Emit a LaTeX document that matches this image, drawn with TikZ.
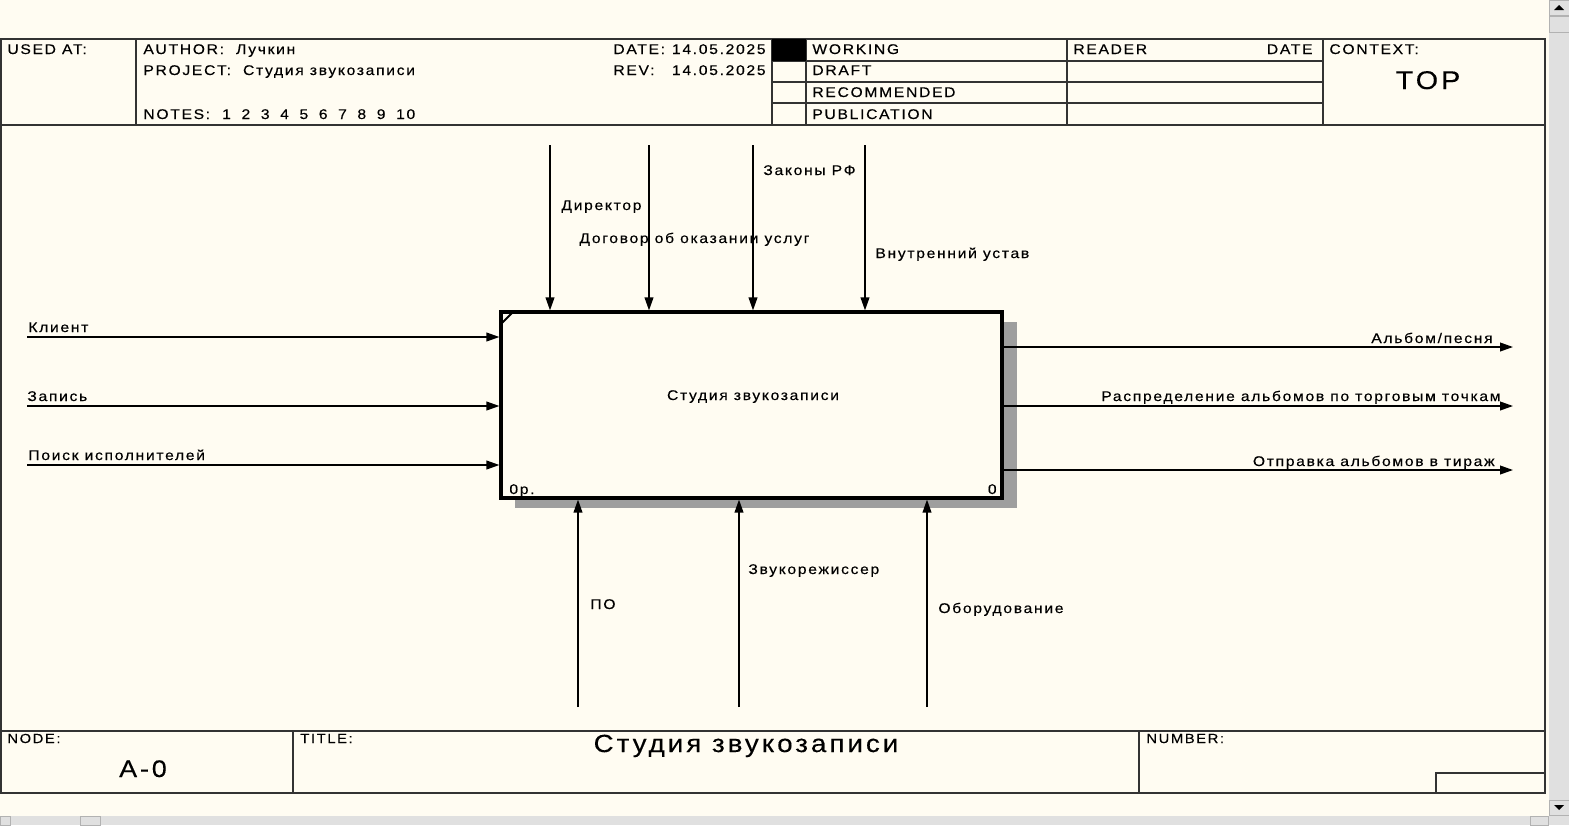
\documentclass[tikz,border=0pt]{standalone}
\usepackage{fontspec}
\setmainfont{Liberation Sans}[FakeStretch=1.12,LetterSpace=12,FakeBold=0.25]
\usetikzlibrary{arrows.meta}
\definecolor{paper}{RGB}{255,252,242}
\definecolor{bar}{RGB}{224,224,224}
\newcommand{\ngap}{\hspace{5.3pt}}

\begin{document}
\begin{tikzpicture}[x=0.5pt, y=-0.5pt,
    >={Triangle[length=6.5pt,width=4.4pt]},
    lbl/.style={inner sep=0pt, font=\fontsize{7pt}{8pt}\selectfont},
    tiny/.style={inner sep=0pt, font=\fontsize{6.6pt}{7pt}\selectfont},
    big/.style={inner sep=0pt, font=\fontsize{12.4pt}{13pt}\selectfont},
    rule/.style={draw=black!80, line width=0.7pt},
    flow/.style={->, line width=0.7pt},
    funcbox/.style={draw, line width=1.6pt, fill=paper, inner sep=0pt,
                    minimum width=250.5pt, minimum height=93pt},
    shade/.style={fill=black!38},
    barbox/.style={fill=bar, draw=black!30, line width=0.3pt},
]
\useasboundingbox (0,0) rectangle (1569,825);
\fill[paper] (0,0) rectangle (1569,825);

% --- scroll bars ---
\fill[bar] (1549,0) rectangle (1569,825);
\fill[bar] (0,816) rectangle (1549,825);
\draw[barbox] (1549,0) rectangle (1569,15);
\fill (1554,10) -- (1564,10) -- (1559,5) -- cycle;
\draw[barbox] (1549,16) rectangle (1569,32);
\draw[barbox] (1549,800) rectangle (1569,815);
\fill (1554,805) -- (1564,805) -- (1559,810) -- cycle;
\draw[barbox] (0,816) rectangle (10,825);
\draw[barbox] (80,816) rectangle (100,825);
\draw[barbox] (1530,816) rectangle (1548,825);

% --- frame and title blocks ---
\draw[rule] (1,39) rectangle (1545,793);
\draw[rule] (1,125) -- (1545,125);
\draw[rule] (1,731) -- (1545,731);
\foreach \xx in {136,772,806,1067,1323}
  \draw[rule] (\xx,39) -- (\xx,125);
\foreach \yy in {61,82,103}
  \draw[rule] (772,\yy) -- (1323,\yy);
\fill (772,39) rectangle (806,61);
\draw[rule] (293,731) -- (293,793);
\draw[rule] (1139,731) -- (1139,793);
\draw[rule] (1436,793) |- (1545,773);

% --- header text ---
\node[lbl, anchor=base west] (usedat) at (7,54) {USED AT:};
\node[lbl, anchor=base west] (author) at (143,54) {AUTHOR:\ \ Лучкин};
\node[lbl, anchor=base west] (project) at (143,75) {PROJECT:\ \ Студия звукозаписи};
\node[lbl, anchor=base west] (notes) at (143,119)
  {NOTES:\ \ 1\ngap 2\ngap 3\ngap 4\ngap 5\ngap 6\ngap 7\ngap 8\ngap 9\ngap 10};
\node[lbl, anchor=base west] (date) at (613,54) {DATE:};
\node[lbl, anchor=base east] (dateval) at (766,54) {14.05.2025};
\node[lbl, anchor=base west] (rev) at (613,75) {REV:};
\node[lbl, anchor=base east] (revval) at (766,75) {14.05.2025};
\node[lbl, anchor=base west] (working) at (812,54) {WORKING};
\node[lbl, anchor=base west] (draft) at (812,75) {DRAFT};
\node[lbl, anchor=base west] (recom) at (812,97) {RECOMMENDED};
\node[lbl, anchor=base west] (publ) at (812,119) {PUBLICATION};
\node[lbl, anchor=base west] (reader) at (1073,54) {READER};
\node[lbl, anchor=base east] (rdate) at (1313,54) {DATE};
\node[lbl, anchor=base west] (context) at (1329,54) {CONTEXT:};
\node[inner sep=0pt, font=\fontsize{12.8pt}{13pt}\selectfont, anchor=base] (top) at (1428,89) {TOP};

% --- footer text ---
\node[tiny, anchor=base west] (nodelbl) at (7,743) {NODE:};
\node[tiny, anchor=base west] (titlelbl) at (300,743) {TITLE:};
\node[tiny, anchor=base west] (numlbl) at (1146,743) {NUMBER:};
\node[inner sep=0pt, font=\fontsize{12pt}{13pt}\selectfont, anchor=base] (nodeval) at (143,777) {A-0};
\node[big, anchor=base] (titleval) at (746,752) {Студия звукозаписи};

% --- function box with shadow ---
\fill[shade] (1002,322) rectangle (1017,508);
\fill[shade] (515,498) rectangle (1017,508);
\node[funcbox] (func) at (751.5,405) {};
\draw[line width=1pt] (501,324) -- (513,312);
\node[lbl, anchor=base] (functxt) at (753,400) {Студия звукозаписи};
\node[lbl, anchor=base west] (cost) at (509,494) {0р.};
\node[lbl, anchor=base east] (fnum) at (997,494) {0};

% --- controls ---
\coordinate (ctl1) at (550,145);
\coordinate (ctl2) at (649,145);
\coordinate (ctl3) at (753,145);
\coordinate (ctl4) at (865,145);
\foreach \c in {ctl1,ctl2,ctl3,ctl4}
  \draw[flow] (\c) -- (\c |- func.north);
\node[lbl, anchor=base west] (dir) at (561,210) {Директор};
\node[lbl, anchor=base west] (dogovor) at (579,243) {Договор об оказании услуг};
\node[lbl, anchor=base west] (zakony) at (763,175) {Законы РФ};
\node[lbl, anchor=base west] (ustav) at (875,258) {Внутренний устав};

% --- inputs ---
\coordinate (in1) at (27,337);
\coordinate (in2) at (27,406);
\coordinate (in3) at (27,465);
\foreach \c in {in1,in2,in3}
  \draw[flow] (\c) -- (\c -| func.west);
\node[lbl, anchor=base west] (klient) at (28,332) {Клиент};
\node[lbl, anchor=base west] (zapis) at (27,401) {Запись};
\node[lbl, anchor=base west] (poisk) at (28,460) {Поиск исполнителей};

% --- outputs ---
\coordinate (out1) at (1513,347);
\coordinate (out2) at (1513,406);
\coordinate (out3) at (1513,470);
\foreach \c in {out1,out2,out3}
  \draw[flow] (\c -| func.east) -- (\c);
\node[lbl, anchor=base east] (album) at (1493,343) {Альбом/песня};
\node[lbl, anchor=base east] (raspr) at (1501,401) {Распределение альбомов по торговым точкам};
\node[lbl, anchor=base east] (otpr) at (1495,466) {Отправка альбомов в тираж};

% --- mechanisms ---
\coordinate (mech1) at (578,707);
\coordinate (mech2) at (739,707);
\coordinate (mech3) at (927,707);
\foreach \c in {mech1,mech2,mech3}
  \draw[flow] (\c) -- (\c |- func.south);
\node[lbl, anchor=base west] (po) at (590,609) {ПО};
\node[lbl, anchor=base west] (zvuk) at (748,574) {Звукорежиссер};
\node[lbl, anchor=base west] (obor) at (938,613) {Оборудование};
\end{tikzpicture}
\end{document}
